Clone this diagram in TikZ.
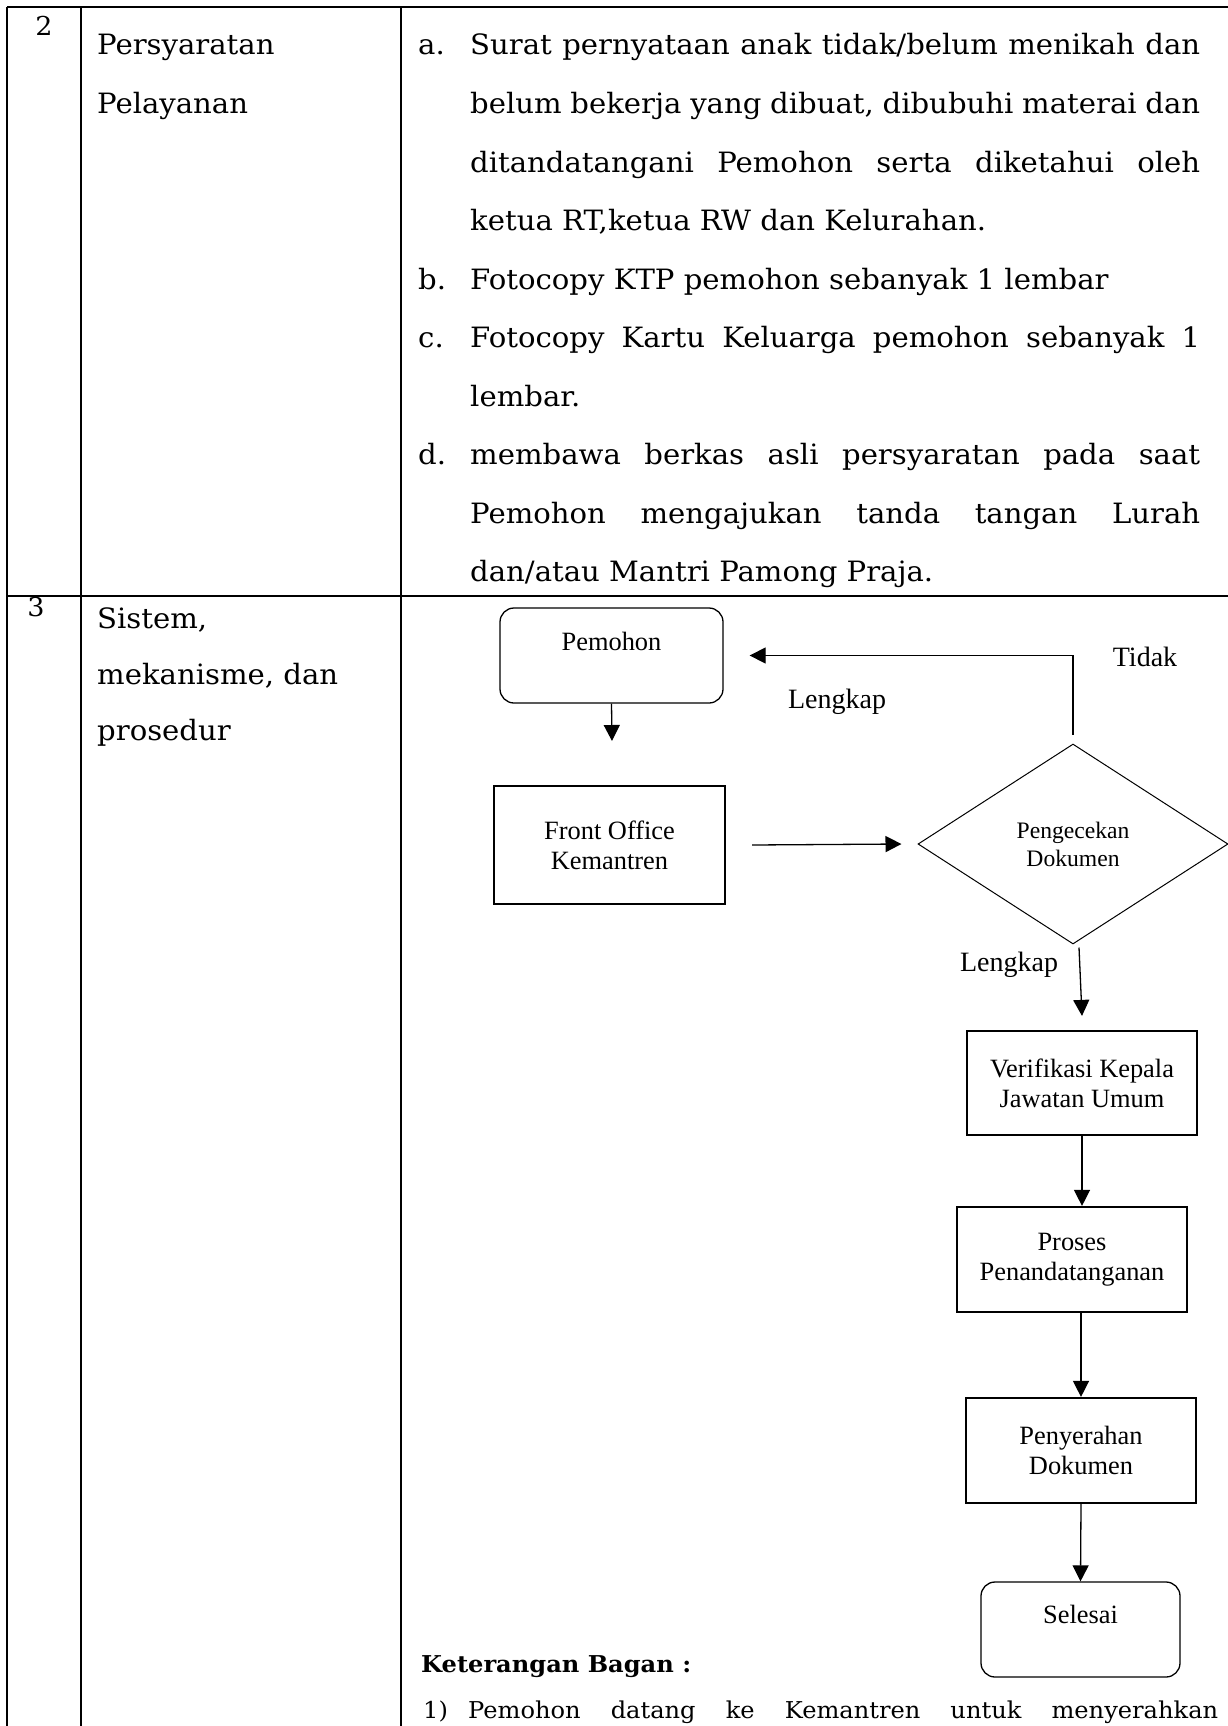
\documentclass[tikz,border=0pt]{standalone}
\usepackage{fontspec}
\setmainfont{DejaVu Serif}[FakeStretch=1.04]
\newfontfamily\flowfont{Liberation Serif}
\usetikzlibrary{shapes.geometric,arrows.meta}

% table text sizes
\newcommand{\tblsize}{\fontsize{28}{30}\selectfont}
\newcommand{\notesize}{\fontsize{23.2}{28}\selectfont}
% a justified line of the requirement list
\newcommand{\jline}[1]{\makebox[730pt][s]{#1}}

\begin{document}
\begin{tikzpicture}[x=1pt,y=-1pt,
  gridline/.style={line width=1.5pt},
  txt/.style={anchor=base west, inner sep=0pt, font=\tblsize},
  num/.style={anchor=base, inner sep=0pt, font=\fontsize{26}{30}\selectfont},
  procbox/.style={draw, line width=2.2pt, inner sep=0pt, align=center,
    font=\flowfont\fontsize{26.4}{30}\selectfont},
  termbox/.style={draw, rounded corners=14pt, line width=1.3pt, inner sep=0pt,
    font=\flowfont\fontsize{26.4}{30}\selectfont},
  decision/.style={diamond, draw, line width=1pt, inner sep=0pt,
    minimum width=310pt, minimum height=200pt, align=center,
    font=\flowfont\fontsize{23.6}{28}\selectfont},
  lbl/.style={anchor=base, inner sep=0pt, font=\flowfont\fontsize{28}{30}\selectfont},
  flow/.style={line width=1.3pt, -{Triangle[length=16pt,width=16pt]}}
]
\useasboundingbox (0,0) rectangle (1228,1726);
\fill[white] (0,0) rectangle (1228,1726);

% table rules
\draw[gridline] (7,7) -- (1228,7);
\draw[gridline] (7,596) -- (1228,596);
\draw[gridline] (7,7) -- (7,1726);
\draw[gridline] (81,7) -- (81,1726);
\draw[gridline] (401,7) -- (401,1726);

% row 2
\node[num] (n2) at (44,36) {2};
\node[txt] (r2a) at (97,55) {Persyaratan};
\node[txt] (r2b) at (97,113.5) {Pelayanan};

\node[txt] (la) at (418,55) {a.};
\node[txt] (a1) at (470,55) {\jline{Surat pernyataan anak tidak/belum menikah dan}};
\node[txt] (a2) at (470,113.5) {\jline{belum bekerja yang dibuat, dibubuhi materai dan}};
\node[txt] (a3) at (470,172) {\jline{ditandatangani Pemohon serta diketahui oleh}};
\node[txt] (a4) at (470,230.5) {ketua RT,ketua RW dan Kelurahan.};
\node[txt] (lb) at (418,289) {b.};
\node[txt] (b1) at (470,289) {Fotocopy KTP pemohon sebanyak 1 lembar};
\node[txt] (lc) at (418,347.5) {c.};
\node[txt] (c1) at (470,347.5) {\jline{Fotocopy Kartu Keluarga pemohon sebanyak 1}};
\node[txt] (c2) at (470,406) {lembar.};
\node[txt] (ld) at (418,464.5) {d.};
\node[txt] (d1) at (470,464.5) {\jline{membawa berkas asli persyaratan pada saat}};
\node[txt] (d2) at (470,523) {\jline{Pemohon mengajukan tanda tangan Lurah}};
\node[txt] (d3) at (470,581.5) {dan/atau Mantri Pamong Praja.};

% row 3
\node[num] (n3) at (36,616) {3};
\node[txt] (r3a) at (97,628) {Sistem,};
\node[txt] (r3b) at (97,684) {mekanisme, dan};
\node[txt] (r3c) at (97,740) {prosedur};

% flowchart
\node[termbox, minimum width=223pt, text height=42pt, text depth=53pt] (pem) at (611.5,655.5) {Pemohon};
\node[procbox, minimum width=231pt, minimum height=118pt] (fo) at (609.5,845) {Front Office\\Kemantren};
\node[decision] (dia) at (1073,844) {Pengecekan\\Dokumen};
\node[procbox, minimum width=230pt, minimum height=104pt] (ver) at (1082,1083) {Verifikasi Kepala\\Jawatan Umum};
\node[procbox, minimum width=230pt, minimum height=105pt] (pro) at (1072,1259.5) {Proses\\Penandatanganan};
\node[procbox, minimum width=230pt, minimum height=105pt] (pen) at (1081,1450.5) {Penyerahan\\Dokumen};
\node[termbox, minimum width=199pt, text height=41pt, text depth=54pt] (sel) at (1080.5,1629.5) {Selesai};

\node[lbl] (tidak) at (1145,666) {Tidak};
\node[lbl] (lk1) at (837,708) {Lengkap};
\node[lbl] (lk2) at (1009,971) {Lengkap};

\coordinate (pemEnd) at (612,741);
\draw[flow] (pem.south) -- (pemEnd);
\draw[flow] ([xshift=26pt]fo.east) -- ([xshift=-16pt]dia.west);
\draw[flow] ([yshift=9pt]dia.north) |- ([xshift=26pt]pem.east);
\draw[flow] ([xshift=6pt,yshift=-3pt]dia.south) -- ([yshift=14pt]ver.north);
\draw[flow] (ver.south) -- (ver.south |- pro.north);
\draw[flow] (pro.south -| pen.north) -- (pen.north);
\draw[flow] (pen.south) -- (sel.north);

% notes under the chart
\node[txt, font=\notesize\bfseries] (ket) at (421,1672) {Keterangan Bagan :};
\node[txt, font=\notesize] (k1) at (423,1718) {1)};
\node[txt, font=\notesize] (k1t) at (468,1718) {\makebox[750pt][s]{Pemohon datang ke Kemantren untuk menyerahkan}};
\end{tikzpicture}
\end{document}
